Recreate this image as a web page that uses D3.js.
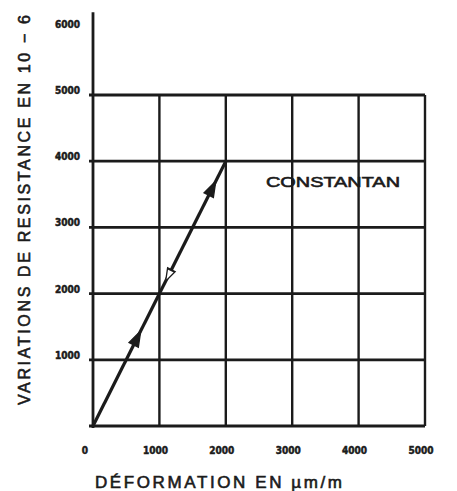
<!DOCTYPE html>
<html><head><meta charset="utf-8">
<script src="https://cdn.jsdelivr.net/npm/d3@7"></script>
<style>html,body{margin:0;padding:0;background:#fff;}svg{display:block;}</style>
</head><body>
<svg id="c" width="457" height="491"></svg>
<script>
// Data
const xTicks = [0, 1000, 2000, 3000, 4000, 5000];
const xTickLabels = ["0", "1000", "2000", "3000", "4000", "5000"];
const yGrid = [0, 1000, 2000, 3000, 4000, 5000];
const yTicks = [1000, 2000, 3000, 4000, 5000, 6000];
const yTickLabels = ["1000", "2000", "3000", "4000", "5000", "6000"];
const strain = [0, 2000];            // µm/m
const resistance = [0, 4000];        // 10^-6
const arrowStrain = [650, 1150, 1780];
const arrowRes = [1300, 2300, 3560];
const arrowDir = ["up", "down", "up"];
const seriesLabel = "CONSTANTAN";
const xTitle = "DÉFORMATION EN µm/m";
const yTitle = "VARIATIONS DE RESISTANCE EN 10 − 6";

const svg = d3.select("#c");
const ink = "#1b1b1b";
const x = d3.scaleLinear().domain([0, 5000]).range([93, 425]);
const y = d3.scaleLinear().domain([0, 5000]).range([426, 95]);

// grid
const g = svg.append("g");
g.selectAll("line.h").data(yGrid).join("line")
  .attr("x1", x(0) - 4).attr("x2", x(5000))
  .attr("y1", d => y(d)).attr("y2", d => y(d))
  .attr("stroke", ink).attr("stroke-width", 2.8);
g.selectAll("line.v").data(xTicks.slice(1)).join("line")
  .attr("x1", d => x(d)).attr("x2", d => x(d))
  .attr("y1", y(5000)).attr("y2", y(0))
  .attr("stroke", ink).attr("stroke-width", 2.4);
// y axis line
g.append("line").attr("x1", x(0)).attr("x2", x(0))
  .attr("y1", y(6250)).attr("y2", y(0) + 2)
  .attr("stroke", ink).attr("stroke-width", 2.8);

// tick labels
const tickFont = "'DejaVu Sans Condensed','DejaVu Sans',sans-serif";
svg.selectAll("text.xt").data(xTicks).join("text")
  .attr("x", (d, i) => x(d) - (i === 0 ? 8 : 4))
  .attr("y", 454)
  .attr("text-anchor", "middle")
  .attr("font-family", tickFont).attr("font-weight", "bold")
  .attr("font-size", 10).attr("fill", ink)
  .attr("stroke", ink).attr("stroke-width", 0.5)
  .text((d, i) => xTickLabels[i]);
svg.selectAll("text.yt").data(yTicks).join("text")
  .attr("x", 80)
  .attr("y", d => y(d) - 1)
  .attr("text-anchor", "end")
  .attr("font-family", tickFont).attr("font-weight", "bold")
  .attr("font-size", 10).attr("fill", ink)
  .attr("stroke", ink).attr("stroke-width", 0.5)
  .text((d, i) => yTickLabels[i]);

// series line
const line = d3.line().x(d => x(d[0])).y(d => y(d[1]));
svg.append("path")
  .attr("d", line(strain.map((s, i) => [s, resistance[i]])))
  .attr("fill", "none").attr("stroke", ink).attr("stroke-width", 3.2);

// arrows
const ang = Math.atan2(y(resistance[1]) - y(0), x(strain[1]) - x(0)) * 180 / Math.PI;
arrowStrain.forEach((s, i) => {
  const cx = x(s), cy = y(arrowRes[i]);
  const rot = ang + 90 + (arrowDir[i] === "down" ? 180 : 0);
  svg.append("path")
    .attr("d", d3.symbol().type(d3.symbolTriangle).size(arrowDir[i] === "down" ? 45 : 70)())
    .attr("transform", `translate(${cx},${cy}) rotate(${rot}) scale(0.8,1.4)`)
    .attr("fill", arrowDir[i] === "down" ? "#fff" : ink)
    .attr("stroke", ink).attr("stroke-width", 1.5);
});

// labels
const titleFont = "'Liberation Sans',Arial,sans-serif";
svg.append("text").attr("x", 266).attr("y", 187)
  .attr("font-family", titleFont).attr("font-size", 15).attr("fill", ink)
  .attr("stroke", ink).attr("stroke-width", 0.6)
  .attr("textLength", 134).attr("lengthAdjust", "spacingAndGlyphs")
  .text(seriesLabel);
svg.append("text").attr("x", 95).attr("y", 488)
  .attr("font-family", titleFont).attr("font-size", 17).attr("fill", ink)
  .attr("stroke", ink).attr("stroke-width", 0.6)
  .attr("textLength", 247).attr("lengthAdjust", "spacing")
  .text(xTitle);
svg.append("text")
  .attr("transform", "translate(30,405) rotate(-90)")
  .attr("font-family", titleFont).attr("font-size", 16).attr("fill", ink)
  .attr("stroke", ink).attr("stroke-width", 0.6)
  .attr("textLength", 390).attr("lengthAdjust", "spacing")
  .text(yTitle);
</script>
</body></html>
